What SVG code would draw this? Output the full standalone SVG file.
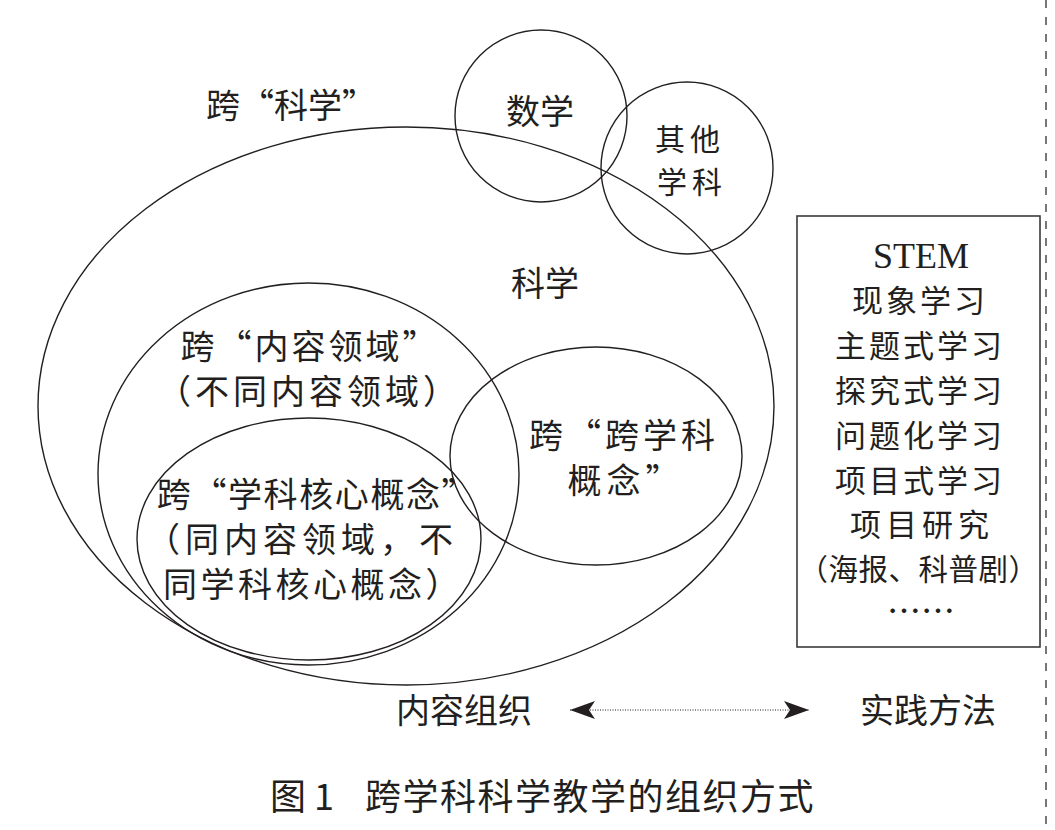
<svg xmlns="http://www.w3.org/2000/svg" width="1055" height="830" viewBox="0 0 1055 830">
<style>
.sh{fill:none;stroke:#231f20;stroke-width:1.4}
.t{font-family:"Noto Sans CJK SC","Noto Sans",sans-serif;font-size:34px;fill:#231f20;text-anchor:middle}
.m{font-size:31px;letter-spacing:3px}
.lat{font-family:"Liberation Serif",serif;font-size:36px;fill:#231f20;text-anchor:middle}
</style>
<defs>
<marker id="ah" markerUnits="userSpaceOnUse" markerWidth="26" markerHeight="20" refX="25" refY="9" orient="auto-start-reverse" viewBox="0 0 26 20">
<path d="M25,9 L0,0 L6,9 L0,18 Z" fill="#231f20"/>
</marker>
</defs>
<rect width="1055" height="830" fill="#fff"/>

<g id="kua-kexue-label">
<text class="t" x="291" y="118">跨“科学”</text>
</g>

<g id="kexue">
<ellipse class="sh" cx="406" cy="406" rx="368" ry="279"/>
<text class="t" x="545" y="296">科学</text>
</g>

<g id="shuxue">
<circle class="sh" cx="541" cy="116" r="86"/>
<text class="t" x="540" y="124">数学</text>
</g>

<g id="qita">
<circle class="sh" cx="687" cy="168" r="86"/>
<text class="t" x="690" y="150" style="font-size:30px;letter-spacing:5px">其他</text>
<text class="t" x="692" y="193" style="font-size:30px;letter-spacing:5px">学科</text>
</g>

<g id="neirong">
<ellipse class="sh" cx="308.5" cy="474" rx="210.5" ry="191"/>
<text class="t" x="310" y="359" letter-spacing="3">跨“内容领域”</text>
<text class="t" x="309" y="404" letter-spacing="4">（不同内容领域）</text>
</g>

<g id="hexin">
<ellipse class="sh" cx="309" cy="539" rx="172" ry="121"/>
<text class="t" x="317" y="507" letter-spacing="1.6">跨“学科核心概念”</text>
<text class="t" x="302" y="552" letter-spacing="5">（同内容领域，不</text>
<text class="t" x="313" y="597" letter-spacing="3.5">同学科核心概念）</text>
</g>

<g id="kuaxueke">
<ellipse class="sh" cx="596" cy="456" rx="146" ry="109"/>
<text class="t" x="624" y="448" letter-spacing="4">跨“跨学科</text>
<text class="t" x="626" y="493" letter-spacing="5">概念”</text>
</g>

<g id="methods">
<rect x="797" y="216" width="243" height="431" fill="none" stroke="#3a3a3a" stroke-width="1.6"/>
<text class="lat" x="921" y="268">STEM</text>
<text class="t m" x="920" y="312">现象学习</text>
<text class="t m" x="920" y="357">主题式学习</text>
<text class="t m" x="920" y="402">探究式学习</text>
<text class="t m" x="920" y="447">问题化学习</text>
<text class="t m" x="920" y="492">项目式学习</text>
<text class="t m" x="922" y="536" style="letter-spacing:5px">项目研究</text>
<text class="t" x="918.5" y="580" style="font-size:29.5px;letter-spacing:0.5px">（海报、科普剧）</text>
<text class="t" x="921" y="624">……</text>
</g>

<g id="neirong-zuzhi">
<text class="t" x="464" y="723">内容组织</text>
</g>
<g id="shijian-fangfa">
<text class="t" x="928" y="723">实践方法</text>
</g>

<g id="connectors">
<line x1="570" y1="710" x2="809" y2="710" stroke="#231f20" stroke-width="1" stroke-dasharray="1 1.5" marker-start="url(#ah)" marker-end="url(#ah)"/>
</g>

<line x1="1046" y1="0" x2="1046" y2="830" stroke="#555" stroke-width="1.6" stroke-dasharray="8 9"/>

<text class="t" x="270" y="810" style="text-anchor:start;font-size:36px">图 1<tspan x="365" letter-spacing="1.5">跨学科科学教学的组织方式</tspan></text>
</svg>
